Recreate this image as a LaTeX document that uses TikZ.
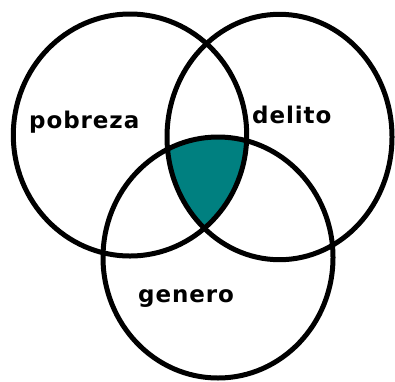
\documentclass[tikz,border=0pt]{standalone}
\usepackage{fontspec}
\newfontfamily\vennfont[LetterSpace=4]{DejaVu Sans}
\usetikzlibrary{positioning}

\begin{document}
\begin{tikzpicture}[x=1pt, y=-1pt, every node/.style={font=\vennfont\bfseries\fontsize{23}{23}\selectfont, inner sep=0pt}]
      \tikzstyle{ring}=[draw=black, line width=5pt]
      \tikzstyle{setlabel}=[anchor=base west, text=black]
      \definecolor{teal}{RGB}{0,128,128}
      \useasboundingbox (0,0) rectangle (395,381);

      % shared region of all three sets
      \begin{scope}
        \clip (130,135) ellipse [x radius=116.7pt, y radius=121pt];
        \clip (279.5,137) ellipse [x radius=112.5pt, y radius=122.7pt];
        \fill[teal] (218,257.5) ellipse [x radius=115pt, y radius=120.5pt];
      \end{scope}

      \draw[ring] (130,135) ellipse [x radius=116.7pt, y radius=121pt];
      \draw[ring] (279.5,137) ellipse [x radius=112.5pt, y radius=122.7pt];
      \draw[ring] (218,257.5) ellipse [x radius=115pt, y radius=120.5pt];

      \node[setlabel] (pobreza) at (29,128) {pobreza};
      \node[setlabel] (delito) at (252,123) {delito};
      \node[setlabel] (genero) at (138,302) {genero};
    \end{tikzpicture}
\end{document}
